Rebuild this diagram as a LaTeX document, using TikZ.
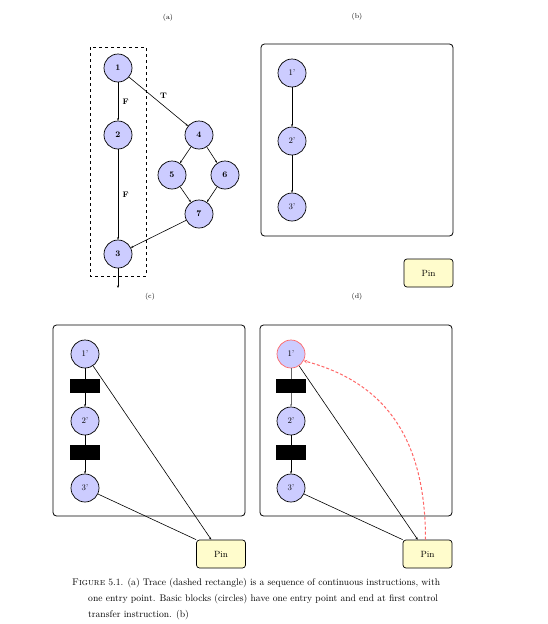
\documentclass[tikz,border=0pt]{standalone}
\usetikzlibrary{arrows.meta}
\begin{document}
\begin{tikzpicture}[x=1pt,y=-1pt,
  bb/.style={circle,draw,line width=0.7pt,fill=blue!20,minimum size=28pt,inner sep=0pt,font=\fontsize{8.5}{10}\selectfont},
  pin/.style={draw,line width=0.7pt,fill=yellow!20,rounded corners=3pt,minimum width=49pt,minimum height=28pt,inner sep=0pt,font=\fontsize{9}{11}\selectfont},
  frame/.style={draw,line width=0.8pt,rounded corners=3.5pt},
  blk/.style={fill=black,minimum width=30pt,minimum height=14.5pt,inner sep=0pt},
  lab/.style={font=\fontsize{7}{8}\selectfont},
  el/.style={font=\fontsize{8}{9}\selectfont},
  arr/.style={-{Stealth[length=2.5pt,width=2pt]},line width=0.6pt},
  ln/.style={line width=0.6pt},
  rd/.style={red!60}
]
\useasboundingbox (0,0) rectangle (547,624);

% labels
\node[lab] (la) at (168,18) {(a)};
\node[lab] (lb) at (357,17) {(b)};
\node[lab] (lc) at (150,297) {(c)};
\node[lab] (ld) at (357,297) {(d)};

% ---------- (a)
\draw[dashed,line width=0.7pt] (90,47) rectangle (146,276);
\node[bb] (a1) at (118,68) {\textbf{1}};
\node[bb] (a2) at (118,135) {\textbf{2}};
\node[bb] (a3) at (118,254) {\textbf{3}};
\node[bb] (a4) at (199,135) {\textbf{4}};
\node[bb] (a5) at (172,175) {\textbf{5}};
\node[bb] (a6) at (225,175) {\textbf{6}};
\node[bb] (a7) at (199,214) {\textbf{7}};
\coordinate (aout) at (118,288);
\draw[arr] (a1) -- node[el,right,xshift=1pt] {\textbf{F}} (a2);
\draw[arr] (a2) -- node[el,right,xshift=1pt] {\textbf{F}} (a3);
\draw[arr] (a1) -- node[el,above right,xshift=-2pt,yshift=-1pt] {\textbf{T}} (a4);
\draw[arr] (a4) -- (a5);
\draw[arr] (a4) -- (a6);
\draw[arr] (a5) -- (a7);
\draw[arr] (a6) -- (a7);
\draw[arr] (a7) -- (a3);
\draw[arr] (a3) -- (aout);

% ---------- (b)
\draw[frame] (261,44) rectangle (453,236);
\node[bb] (b1) at (292,73) {1'};
\node[bb] (b2) at (292,141) {2'};
\node[bb] (b3) at (292,207) {3'};
\draw[arr] (b1) -- (b2);
\draw[arr] (b2) -- (b3);
\node[pin] (pb) at (428.5,273) {Pin};

% ---------- (c)
\draw[frame] (53,325) rectangle (245,516);
\node[bb] (c1) at (85,354) {1'};
\node[bb] (c2) at (85,421) {2'};
\node[bb] (c3) at (85,488) {3'};
\node[blk] (cb1) at (85,386) {};
\node[blk] (cb2) at (85,452.5) {};
\node[pin] (pc) at (221,554) {Pin};
\draw[ln] (c1) -- (cb1);
\draw[arr] (cb1) -- (c2);
\draw[ln] (c2) -- (cb2);
\draw[arr] (cb2) -- (c3);
\draw[arr] (c1) -- (pc);
\draw[ln] (c3) -- (pc.north west);

% ---------- (d)
\draw[frame] (260,325) rectangle (452,516);
\node[bb,draw=red!60] (d1) at (291,354) {1'};
\node[bb] (d2) at (291,421) {2'};
\node[bb] (d3) at (291,488) {3'};
\node[blk] (db1) at (291,386) {};
\node[blk] (db2) at (291,452.5) {};
\node[pin] (pd) at (427.5,554) {Pin};
\draw[ln,black!60] (d1) -- (db1);
\draw[arr,black!60] (db1) -- (d2);
\draw[ln] (d2) -- (db2);
\draw[arr] (db2) -- (d3);
\draw[arr] (d1) -- (pd);
\draw[ln] (d3) -- (pd.north west);
\draw[rd,densely dashed,line width=1pt,-{Stealth[length=3.5pt,width=3.5pt,open]}]
  ([xshift=-2pt]pd.north) .. controls +(0,-110) and +(74,20) .. (d1.-28);

% ---------- caption
\node[anchor=base west,inner sep=0pt,font=\fontsize{9.6}{11}\selectfont] (cap1) at (72,585)
  {\textsc{Figure} 5.1. (a) Trace (dashed rectangle) is a sequence of continuous instructions, with};
\node[anchor=base west,inner sep=0pt,font=\fontsize{9.6}{11}\selectfont] (cap2) at (88,601)
  {one entry point. Basic blocks (circles) have one entry point and end at first control};
\node[anchor=base west,inner sep=0pt,font=\fontsize{9.6}{11}\selectfont] (cap3) at (88,617)
  {transfer instruction. (b)};
\end{tikzpicture}
\end{document}
